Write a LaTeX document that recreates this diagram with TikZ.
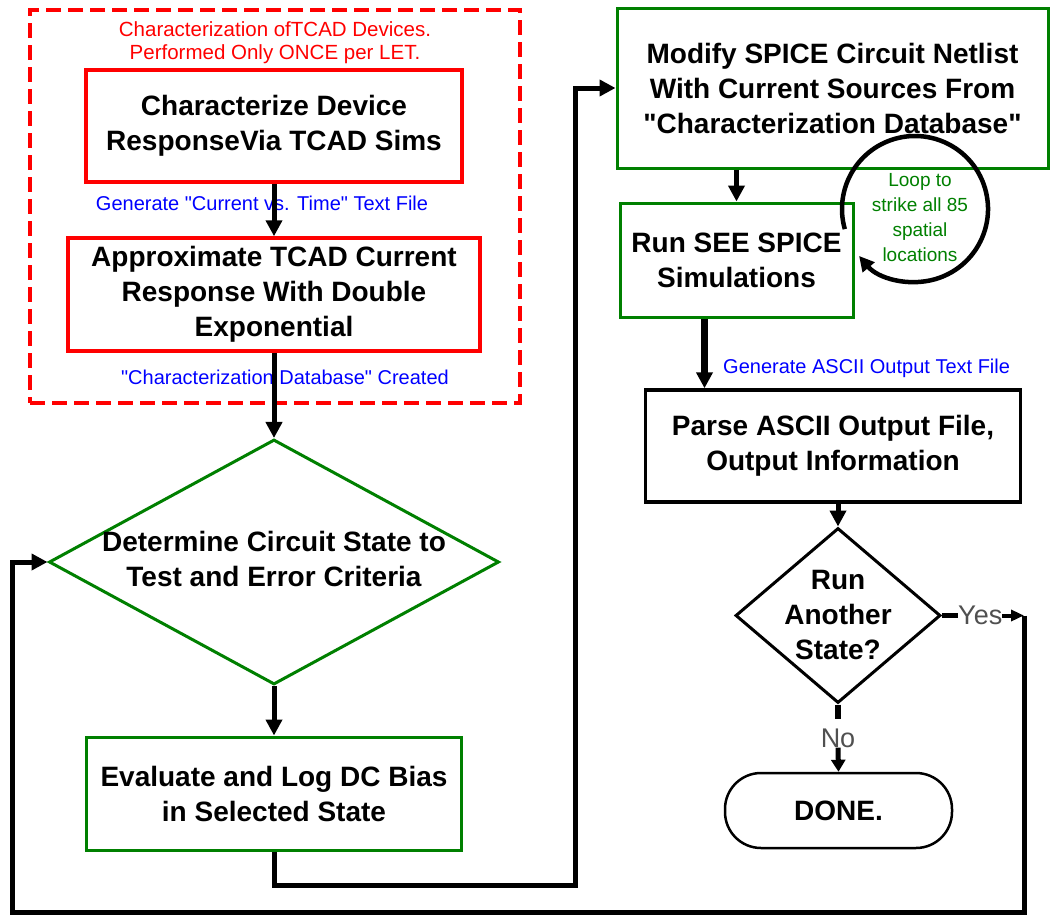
\documentclass[tikz,border=0pt]{standalone}
\usepackage{fontspec}
\setmainfont{Liberation Sans}[Ligatures=TeXOff]
\usetikzlibrary{arrows.meta, positioning, calc, shapes.geometric}
\definecolor{flowRed}{HTML}{FF0000}
\definecolor{flowGreen}{HTML}{008000}
\definecolor{flowBlue}{HTML}{0000FF}
\definecolor{flowGrey}{HTML}{505050}

\begin{document}
\begin{tikzpicture}[
    x=1pt, y=-1pt,
    >={Triangle[length=16pt, width=16pt]},
    % --- node styles ---
    box/.style={
        draw, line width=3pt, inner sep=0pt, align=center,
        font=\bfseries\fontsize{28}{35}\selectfont,
    },
    charbox/.style={box, draw=flowRed, line width=3.5pt},
    stepbox/.style={box, draw=flowGreen},
    plainbox/.style={box, draw=black, line width=3.5pt},
    decision/.style={diamond, draw, line width=3pt, inner sep=0pt},
    endbox/.style={box, rounded corners=36pt, line width=2.5pt},
    bigtext/.style={font=\bfseries\fontsize{28}{35}\selectfont,
                    align=center, inner sep=0pt},
    grpframe/.style={draw=flowRed, line width=3.5pt,
                     dash pattern=on 15pt off 7pt, inner sep=0pt},
    % --- annotation styles ---
    grptitle/.style={font=\fontsize{20.5}{23}\selectfont, text=flowRed,
                     align=center, inner sep=0pt},
    note/.style={font=\fontsize{20}{24}\selectfont, text=flowBlue, inner sep=0pt},
    loopnote/.style={font=\fontsize{19}{25}\selectfont, text=flowGreen,
                     align=center, inner sep=0pt},
    yn/.style={font=\fontsize{27}{30}\selectfont, text=flowGrey, inner sep=0pt},
    arr/.style={->, line width=5pt},
    stub/.style={line width=5.5pt},
    tinyarr/.style={-{Triangle[length=12pt, width=14pt]}, line width=5pt},
]

\path[use as bounding box, fill=white] (0,0) rectangle (1050,918);

% ===== TCAD CHARACTERIZATION (left, top) ====================================

\node[grpframe, minimum width=490pt, minimum height=393pt] (tcadgrp) at (275,206.5) {};
\node[grptitle, below=13pt of tcadgrp.north] (grphead)
    {Characterization ofTCAD Devices.\\Performed Only ONCE per LET.};

% -- Characterize --
\node[charbox, minimum width=376pt, minimum height=112pt] (charz) at (274,126)
    {Characterize Device\\ResponseVia TCAD Sims};
\node[note] (gencur) at (262,203) {Generate "Current vs. Time" Text File};

% -- Approximate --
\node[charbox, minimum width=412pt, minimum height=113pt] (approx) at (274,294.5)
    {Approximate TCAD Current\\Response With Double\\Exponential};
\node[note] (dbmade) at (285,377) {"Characterization Database" Created};

% ===== STATE SELECTION ======================================================

\node[decision, draw=flowGreen, minimum width=450pt, minimum height=245pt]
    (state) at (274,562) {};
\node[bigtext] (statetxt) at (274,559)
    {Determine Circuit State to\\Test and Error Criteria};

\node[stepbox, minimum width=375pt, minimum height=113pt] (evalbias) at (274,793.5)
    {Evaluate and Log DC Bias\\in Selected State};

% ===== SPICE RUNS (right) ===================================================

\node[stepbox, minimum width=431pt, minimum height=160pt] (netlist) at (832.5,88)
    {Modify SPICE Circuit Netlist\\With Current Sources From\\"Characterization Database"};

\node[stepbox, minimum width=233pt, minimum height=114pt] (runsee) at (736.5,260)
    {Run SEE SPICE\\Simulations};

% -- strike loop --
\coordinate (loopc) at (915,209);
\node[loopnote] (looptxt) at (920,218) {Loop to\\strike all 85\\spatial\\locations};

\node[note, anchor=west] (genascii) at (723,368) {Generate ASCII Output Text File};

\node[plainbox, minimum width=375pt, minimum height=112pt] (parse) at (833,446)
    {Parse ASCII Output File,\\Output Information};

% -- decision --
\node[decision, minimum width=205pt, minimum height=175pt] (another) at (838,615.5) {};
\node[bigtext] (anothertxt) at (838,615) {Run\\Another\\State?};
\node[yn, anchor=west] (yes) at (958,615.5) {Yes};
\node[yn] (no) at (838,738) {No};

\node[endbox, minimum width=227pt, minimum height=75pt] (done) at (838.5,810.5) {DONE.};

% -- Arrows --
\draw[arr] (charz) -- (approx);
\draw[arr] (approx) -- (state);
\draw[arr] (state) -- (evalbias);

\coordinate (lowturn) at (575,885);
\draw[arr] (evalbias.south) |- (lowturn) |- (netlist.west);

\draw[arr] (netlist.south -| runsee.north) -- (runsee.north);
\draw[line width=4.5pt, -{Triangle[length=15pt, width=15pt]}]
    ($(loopc)+(164:73)$) arc[start angle=164, end angle=500, radius=73];
\draw[arr, line width=7pt] ([xshift=-32pt]runsee.south)
    -- ([xshift=-32pt]runsee.south |- parse.north);
\draw[arr] (parse.south -| another.north) -- (another.north);

\draw[stub] (another.south) -- ([yshift=9pt]no.north);
\draw[tinyarr] (no.south) -- (done.north);

\draw[stub] (another.east) -- (another.east -| yes.west);
\coordinate (backup) at (1024,615.5);
\coordinate (lowleft) at (12,912);
\draw[-{Triangle[length=13pt, width=11pt]}, line width=4pt] (yes.east) -- (backup);
\draw[arr] (backup) |- (lowleft) |- (state.west);

\end{tikzpicture}
\end{document}
